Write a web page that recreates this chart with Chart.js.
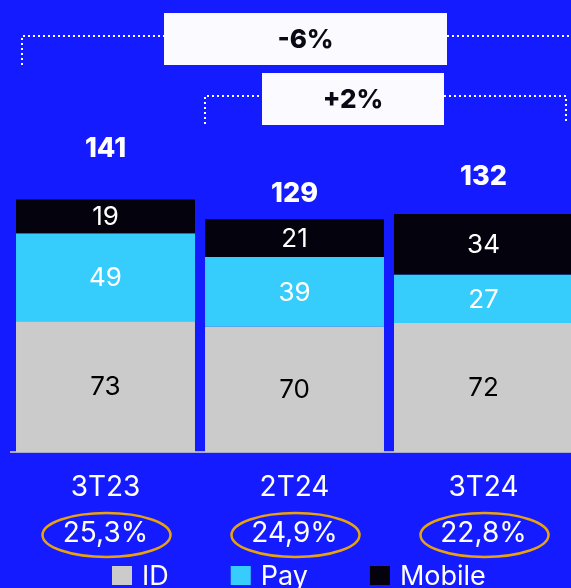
<!DOCTYPE html>
<html>
<head>
<meta charset="utf-8">
<script src="https://cdn.jsdelivr.net/npm/chart.js@4.4.1/dist/chart.umd.min.js"></script>
<style>
  html, body { margin: 0; padding: 0; background: #141cff; overflow: hidden; }
  #wrap { position: relative; width: 578px; height: 588px; }
</style>
</head>
<body>
<div id="wrap"><canvas id="myChart" width="578" height="588"></canvas></div>
<script>
// dados
const periodos = ['3T23', '2T24', '3T24'];
const margens = ['25,3%', '24,9%', '22,8%'];
const valoresID = [73, 70, 72];
const valoresPay = [49, 39, 27];
const valoresMobile = [19, 21, 34];
const totais = [141, 129, 132];
const variacoes = ['-6%', '+2%'];

// estilo
const corID = '#cbcbcb';
const corPay = '#36cdfd';
const corMobile = '#03020d';
const corRotulo = ['#000000', '#ffffff', '#ffffff'];
const alturaTotal = [51, 25, 37]; // distancia do total acima da barra
const fonte = 'Inter';

Chart.defaults.font.family = fonte;

const rotulosPlugin = {
    id: 'rotulos',
    afterDatasetsDraw(chart) {
        const ctx = chart.ctx;
        ctx.save();
        ctx.textAlign = 'center';
        ctx.textBaseline = 'middle';
        chart.data.datasets.forEach((ds, i) => {
            const meta = chart.getDatasetMeta(i);
            meta.data.forEach((bar, j) => {
                ctx.fillStyle = corRotulo[i];
                ctx.font = '400 26px ' + fonte;
                ctx.fillText(ds.data[j], bar.x, (bar.y + bar.base) / 2 + 1);
            });
        });
        const topo = chart.getDatasetMeta(chart.data.datasets.length - 1);
        topo.data.forEach((bar, j) => {
            ctx.fillStyle = '#ffffff';
            ctx.font = '800 27px ' + fonte;
            ctx.fillText(totais[j], bar.x, bar.y - alturaTotal[j]);
        });
        ctx.restore();
    },
    afterDraw(chart) {
        const ctx = chart.ctx;
        const x = chart.scales.x;
        ctx.save();

        // elipses das margens
        ctx.strokeStyle = '#e9a20e';
        ctx.lineWidth = 2.5;
        periodos.forEach((p, i) => {
            const cx = x.getPixelForTick(i);
            ctx.beginPath();
            ctx.ellipse(cx + 1, 535, 64, 22, 0, 0, Math.PI * 2);
            ctx.stroke();
        });

        // colchetes pontilhados
        ctx.strokeStyle = '#ffffff';
        ctx.lineWidth = 2;
        ctx.setLineDash([2, 3]);
        ctx.beginPath();
        ctx.moveTo(22, 65); ctx.lineTo(22, 36); ctx.lineTo(164, 36);
        ctx.moveTo(447, 36); ctx.lineTo(578, 36);
        ctx.moveTo(205, 124); ctx.lineTo(205, 96); ctx.lineTo(262, 96);
        ctx.moveTo(444, 96); ctx.lineTo(566, 96); ctx.lineTo(566, 124);
        ctx.stroke();
        ctx.setLineDash([]);

        // caixas de variacao
        const caixas = [[164, 13, 283, 52], [262, 73, 182, 52]];
        ctx.textAlign = 'center';
        ctx.textBaseline = 'middle';
        ctx.font = '800 26px ' + fonte;
        caixas.forEach((c, i) => {
            ctx.fillStyle = '#fbfaff';
            ctx.fillRect(c[0], c[1], c[2], c[3]);
            ctx.fillStyle = '#0a0a14';
            ctx.fillText(variacoes[i], c[0] + c[2] / 2, c[1] + c[3] / 2 + 1);
        });

        // legenda
        let lx = 112;
        ctx.textAlign = 'left';
        ctx.textBaseline = 'alphabetic';
        ctx.font = '400 27px ' + fonte;
        chart.data.datasets.forEach(ds => {
            ctx.fillStyle = ds.backgroundColor;
            ctx.fillRect(lx, 566, 20, 19);
            ctx.fillStyle = '#ffffff';
            ctx.fillText(ds.label, lx + 30, 585);
            lx += 30 + ctx.measureText(ds.label).width + 62;
        });
        ctx.restore();
    }
};

const data = {
    labels: periodos.map((p, i) => [p, margens[i]]),
    datasets: [{
        label: 'ID',
        data: valoresID,
        backgroundColor: corID
    }, {
        label: 'Pay',
        data: valoresPay,
        backgroundColor: corPay
    }, {
        label: 'Mobile',
        data: valoresMobile,
        backgroundColor: corMobile
    }]
};

const config = {
    type: 'bar',
    data: data,
    options: {
        responsive: false,
        animation: false,
        devicePixelRatio: 1,
        layout: { padding: { left: 11, top: 94, right: 0, bottom: 0 } },
        datasets: { bar: { barPercentage: 1, categoryPercentage: 0.947, borderWidth: 0 } },
        plugins: { legend: { display: false }, tooltip: { enabled: false } },
        scales: {
            x: {
                stacked: true,
                grid: { display: false, drawTicks: false },
                border: { display: true, color: '#a9a9c9', width: 2 },
                ticks: {
                    color: '#ffffff',
                    font: { size: 28, lineHeight: 1.66 },
                    padding: 12,
                    maxRotation: 0,
                    autoSkip: false
                },
                afterFit(scale) { scale.height = 136; }
            },
            y: { stacked: true, display: false, min: 0, max: 200 }
        }
    },
    plugins: [rotulosPlugin]
};

const myChart = new Chart(document.getElementById('myChart'), config);
</script>
</body>
</html>
